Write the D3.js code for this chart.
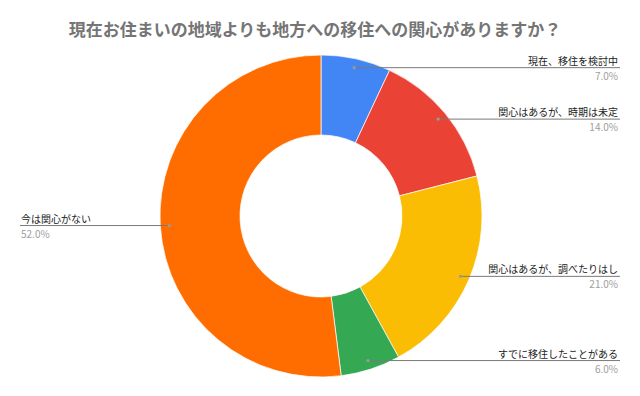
<!DOCTYPE html>
<html><head><meta charset="utf-8">
<script src="https://cdn.jsdelivr.net/npm/d3@7"></script>
<style>body{margin:0;background:#fff}svg{display:block}</style>
</head><body>
<script>
const title = "現在お住まいの地域よりも地方への移住への関心がありますか？";
const categories = ["現在、移住を検討中","関心はあるが、時期は未定","関心はあるが、調べたりはし","すでに移住したことがある","今は関心がない"];
const values = [7.0, 14.0, 21.0, 6.0, 52.0];
const colors = ["#4285F4","#EA4335","#FBBC04","#34A853","#FF6D01"];

const W = 640, H = 396;
const cx = 321, cy = 216, R = 161, r = 81;
const font = "'Noto Sans CJK JP','Noto Sans',sans-serif";

const svg = d3.select("body").append("svg").attr("width", W).attr("height", H);
svg.append("text").attr("x", 315).attr("y", 36).attr("text-anchor","middle")
  .attr("font-family", font).attr("font-size", 17).attr("font-weight","bold")
  .attr("fill","#757575").text(title);

const pie = d3.pie().sort(null).value(d => d)(values);
const arc = d3.arc().innerRadius(r).outerRadius(R);
const g = svg.append("g").attr("transform", `translate(${cx},${cy})`);
g.selectAll("path").data(pie).join("path").attr("d", arc)
  .attr("fill", (d,i) => colors[i]).attr("stroke","#fff").attr("stroke-width",0.7);

const pr = 152;
pie.forEach((d,i) => {
  const a = (d.startAngle + d.endAngle)/2;
  const px = cx + pr*Math.sin(a), py = cy - pr*Math.cos(a);
  const right = px > cx;
  const ex = right ? 620 : 20;
  svg.append("line").attr("x1", px).attr("y1", py).attr("x2", ex).attr("y2", py)
    .attr("stroke","#7a7a7a").attr("stroke-width",1);
  svg.append("circle").attr("cx", px).attr("cy", py).attr("r", 1.6).attr("fill","#9a9a9a");
  const anchor = right ? "end" : "start";
  const tx = right ? 618 : 21;
  svg.append("text").attr("x", tx).attr("y", py-3).attr("text-anchor", anchor)
    .attr("font-family", font).attr("font-size", 10).attr("fill","#222").text(categories[i]);
  svg.append("text").attr("x", tx).attr("y", py+12).attr("text-anchor", anchor)
    .attr("font-family", font).attr("font-size", 10).attr("fill","#9e9e9e")
    .text(values[i].toFixed(1) + "%");
});
</script>
</body></html>
